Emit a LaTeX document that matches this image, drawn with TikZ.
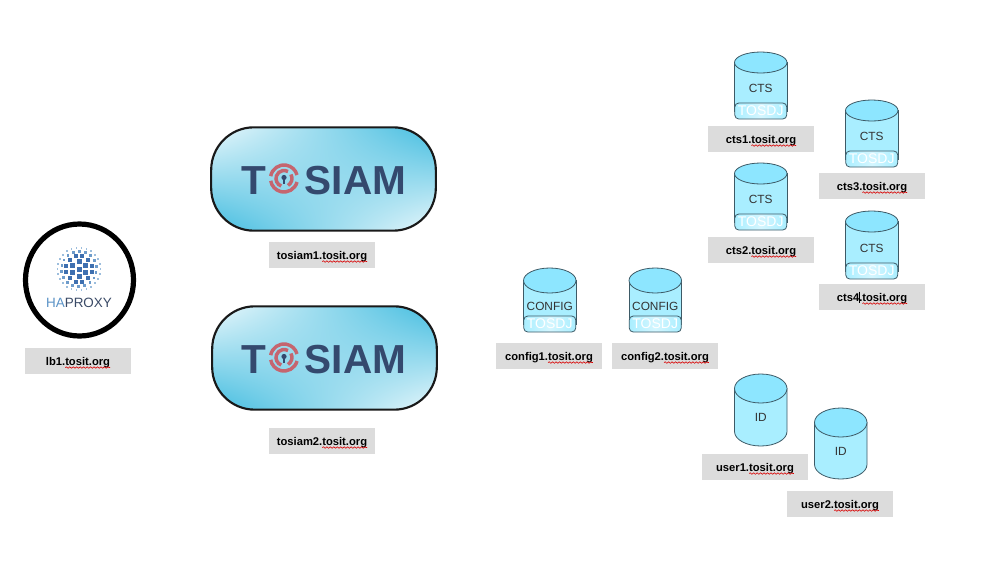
\documentclass[tikz,border=0pt]{standalone}
\usepackage{fontspec}
\setmainfont{Liberation Sans}
\usetikzlibrary{decorations.pathmorphing,calc,shapes.geometric}
\definecolor{boxgrey}{HTML}{DCDCDC}
\definecolor{cylbody}{HTML}{A9EEFF}
\definecolor{cyltop}{HTML}{8DE6FF}
\definecolor{cylline}{HTML}{3D5A66}
\definecolor{logoblue}{HTML}{34496E}
\definecolor{logored}{HTML}{C5656F}
\definecolor{hablue}{HTML}{5B93C7}
\definecolor{hadark}{HTML}{3A4A66}
\definecolor{dotA}{HTML}{3F70B0}
\definecolor{dotB}{HTML}{6E9CCB}
\definecolor{dotC}{HTML}{9DBEDD}
\pgfdeclarefunctionalshading{saddle}{\pgfpoint{-50bp}{-50bp}}{\pgfpoint{50bp}{50bp}}{}{
  mul 2500 div 3.2 mul
  dup 1 gt {pop 1} if dup -1 lt {pop -1} if
  1 add 2 div
  dup -0.824 mul 1 add exch
  dup -0.29 mul 1 add exch
  -0.137 mul 1 add
}
\newcommand\lblfont{\fontsize{8.4pt}{10pt}\selectfont\bfseries}
\newlength\tlen
\newcommand\tositwave{%
  \settowidth{\tlen}{tosit.org}%
  tosit.org\tikz[overlay,baseline=0pt]\draw[wavy] (-\tlen,-1.9pt) -- (0pt,-1.9pt);%
}
\tikzset{
  hostbox/.style={fill=boxgrey,minimum width=79.5pt,minimum height=19.5pt,inner sep=0pt,text=black,font=\lblfont,text height=6pt,text depth=0pt},
  wavy/.style={draw=red!85!black,line width=.45pt,decorate,decoration={snake,amplitude=.55pt,segment length=2.6pt}},
  tosiambox/.style={draw=black!90,line width=1.6pt,rounded corners=32pt,minimum width=168.5pt,minimum height=77.5pt,inner sep=0pt,shading=saddle},
  logotext/.style={anchor=base west,inner sep=0pt,text=logoblue,font=\fontsize{30.4pt}{30pt}\selectfont\bfseries},
  ringline/.style={draw=logored,line width=2.6pt},
  cyl/.style={fill=cylbody,draw=cylline,line width=.6pt},
  cyltopst/.style={fill=cyltop,draw=cylline,line width=.6pt},
  cyltext/.style={text=black!80,inner sep=0pt,font=\fontsize{8.9pt}{10pt}\selectfont},
  tosdjbox/.style={draw=cylline,line width=.6pt,rounded corners=3pt,minimum width=39pt,minimum height=12pt,inner sep=0pt,
    left color=cylbody,right color=cylbody,middle color=cylbody!50!white,text=white,font=\fontsize{10.5pt}{10pt}\selectfont},
}
% name, centre x, centre y, prefix
\newcommand\hostlabel[4]{%
  \node[hostbox] (#1) at (#2,#3) {#4.\tositwave};
}
% name, left x, top y, bottom y, ry, text, text y
\newcommand\dbbody[7]{%
  \path[cyl] (#2,#3+#5) -- (#2,#4-#5) arc[start angle=180,end angle=0,x radius=26.25,y radius=#5] -- (#2+52.5,#3+#5) -- cycle;
  \path[cyltopst] (#2+26.25,#3+#5) ellipse[x radius=26.25,y radius=#5];
  \node[cyltext] (#1t) at (#2+26.25,#7) {#6};
}
% name, left x, top y, bottom y, ry, text, text y
\newcommand\dbtosdj[7]{%
  \path[cyl] (#2,#3+#5) rectangle (#2+52.5,#4-8);
  \path[cyltopst] (#2+26.25,#3+#5) ellipse[x radius=26.25,y radius=#5];
  \node[cyltext] (#1t) at (#2+26.25,#7) {#6};
  \node[tosdjbox] (#1j) at (#2+26.25,#4-8) {TOSDJ};
}
% name, y offset
\newcommand\tosiamlogo[2]{%
  \begin{scope}[yshift=#2*-.75pt]
    \node[logotext] (#1T) at (241,194) {T};
    \node[logotext] (#1S) at (304.5,194) {SIAM};
    \draw[ringline] (284,178.5) ++(15:13.5) arc[start angle=15,end angle=170,radius=13.5];
    \draw[ringline] (284,178.5) ++(190:13.5) arc[start angle=190,end angle=345,radius=13.5];
    \draw[ringline] (284,178.5) ++(110:8) arc[start angle=110,end angle=300,radius=8];
    \draw[ringline] (284,178.5) ++(-30:8) arc[start angle=-30,end angle=60,radius=8];
    \fill[logoblue] (284,177.5) circle[radius=2.6];
    \fill[logoblue] (282.9,177.5) rectangle (285.1,184);
  \end{scope}
}
\begin{document}
\begin{tikzpicture}[x=.75pt,y=-.75pt]
\useasboundingbox (0,0) rectangle (985,582);
\fill[white] (0,0) rectangle (985,582);

% HAProxy
\node[draw=black,line width=3.9pt,ellipse,minimum width=81pt,minimum height=84pt,inner sep=0pt] (lb) at (79.5,280) {};
\foreach \r/\n/\s/\c/\o in {21.5/26/1.7/dotC/0,17.5/18/2.6/dotB/11,13/12/4/dotA/15,7.5/6/5/dotA/30}{
  \foreach \k in {1,...,\n}{
    \pgfmathsetmacro\aa{\o+360*\k/\n}
    \fill[\c] ($(79,269)+(\aa:\r)+(-\s/2,-\s/2)$) rectangle +(\s,\s);
  }
}
\fill[dotA] (76.5,266.5) rectangle +(5,5);
\node[inner sep=0pt,font=\fontsize{10.1pt}{12pt}\selectfont] (hatext) at (79,303) {\textcolor{hablue}{HA}\textcolor{hadark}{PROXY}};
\hostlabel{lbl}{78}{361}{lb1}

% TOSIAM
\node[tosiambox] (tosiamA) at (323.5,179) {};
\tosiamlogo{A}{0}
\hostlabel{tA}{322}{255}{tosiam1}
\node[tosiambox] (tosiamB) at (324.5,358) {};
\tosiamlogo{B}{179}
\hostlabel{tB}{322}{441}{tosiam2}

% CONFIG
\dbtosdj{cfgA}{523.5}{268}{332}{12.5}{CONFIG}{306}
\hostlabel{cfgAl}{549}{356}{config1}
\dbtosdj{cfgB}{629}{268}{332}{12.5}{CONFIG}{306}
\hostlabel{cfgBl}{665}{356}{config2}

% CTS
\dbtosdj{ctsA}{734.5}{52}{119}{10.5}{CTS}{88}
\hostlabel{ctsAl}{761}{139}{cts1}
\dbtosdj{ctsB}{734.5}{163}{230}{10.5}{CTS}{199}
\hostlabel{ctsBl}{761}{250}{cts2}
\dbtosdj{ctsC}{845.5}{100}{167}{10.5}{CTS}{136}
\hostlabel{ctsCl}{872}{186}{cts3}
\dbtosdj{ctsD}{845.5}{211}{279}{10.5}{CTS}{248}
\hostlabel{ctsDl}{872}{297}{cts4}
\draw[black,line width=.5pt] (859.7,291.5) -- (859.7,303);

% ID
\dbbody{idA}{734.5}{374}{446}{14.5}{ID}{417}
\hostlabel{idAl}{755}{467}{user1}
\dbbody{idB}{814.5}{408}{479}{14.5}{ID}{451}
\hostlabel{idBl}{840}{504}{user2}
\end{tikzpicture}
\end{document}
